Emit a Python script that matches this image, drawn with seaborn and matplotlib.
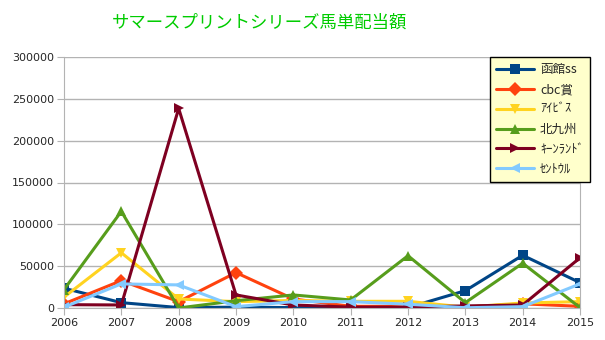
import matplotlib
matplotlib.use("Agg")
import matplotlib.pyplot as plt
import seaborn as sns
import pandas as pd

years = [2006, 2007, 2008, 2009, 2010, 2011, 2012, 2013, 2014, 2015]
series_names = ["函館ss", "cbc賞", "ｱｲﾋﾞｽ", "北九州", "ｷｰﾝﾗﾝﾄﾞ", "ｾﾝﾄｳﾙ"]
hakodate = [23600, 6400, 500, 1000, 500, 300, 500, 20700, 63000, 30300]
cbc = [5000, 32700, 7600, 42300, 10800, 2000, 2000, 1000, 5000, 2000]
ibis = [13000, 66000, 10800, 7600, 9000, 8000, 8000, 1000, 6000, 7600]
kitakyushu = [22000, 115500, 0, 8700, 15600, 9600, 62500, 6400, 53500, 500]
keeneland = [4000, 3600, 238500, 15600, 3600, 1000, 1000, 2500, 3600, 60000]
centaur = [1000, 28800, 27600, 1600, 7600, 7600, 4500, 300, 1600, 28800]
values = [hakodate, cbc, ibis, kitakyushu, keeneland, centaur]

colors = ["#004586", "#FF420E", "#FFD320", "#579D1C", "#7E0021", "#83CAFF"]
marker_list = ["s", "D", "v", "^", ">", "<"]

rows = []
for name, vals in zip(series_names, values):
    for y, v in zip(years, vals):
        rows.append({"year": y, "value": v, "series": name})
df = pd.DataFrame(rows)

sns.set_style("white")
plt.rcParams["font.family"] = ["Noto Sans CJK JP", "DejaVu Sans"]

fig = plt.figure(figsize=(6.05, 3.4), dpi=100)
ax = fig.add_axes([64/605, 1-308/340, (580-64)/605, (308-57)/340])

sns.lineplot(data=df, x="year", y="value", hue="series", style="series",
             hue_order=series_names, style_order=series_names,
             palette=dict(zip(series_names, colors)),
             markers=dict(zip(series_names, marker_list)),
             dashes=False, linewidth=2.2, markersize=7.5, markeredgewidth=0,
             ax=ax, legend=True)

ax.set_xlim(2006, 2015)
ax.set_ylim(0, 300000)
ax.set_yticks(range(0, 300001, 50000))
ax.set_xticks(years)
ax.set_xticklabels([str(y) for y in years])
ax.yaxis.grid(True, color="#B3B3B3", linewidth=1)
ax.xaxis.grid(False)
ax.set_xlabel("")
ax.set_ylabel("")
for s in ["left", "right", "bottom"]:
    ax.spines[s].set_color("#B3B3B3")
    ax.spines[s].set_visible(True)
ax.spines["top"].set_visible(False)
ax.tick_params(axis="both", labelsize=8, length=5, color="#B3B3B3",
               bottom=True, left=True, pad=2)
for lab in ax.get_xticklabels() + ax.get_yticklabels():
    lab.set_fontfamily(["DejaVu Sans"])

leg = ax.legend(loc="upper left", bbox_to_anchor=(490/605, 1-57/340),
                bbox_transform=fig.transFigure, frameon=True, fancybox=False,
                fontsize=9, handlelength=3, borderpad=0.5, labelspacing=0.55,
                handletextpad=0.5, borderaxespad=0)
leg.get_frame().set_facecolor("#FFFFCC")
leg.get_frame().set_edgecolor("black")
leg.get_frame().set_linewidth(1)
leg.get_frame().set_alpha(1)

fig.text(260/605, 1-23/340, "サマースプリントシリーズ馬単配当額", color="#00CC00",
         fontsize=12.5, ha="center", va="center")

fig.savefig("out.png", dpi=100)
